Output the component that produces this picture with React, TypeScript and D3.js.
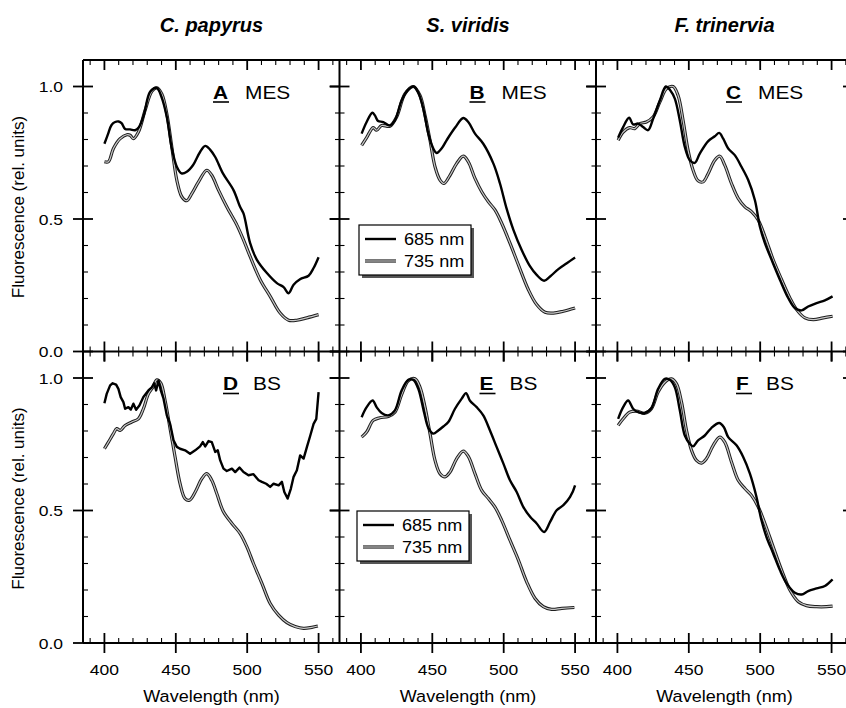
import React from 'react';
import * as d3 from 'd3';

const species = ['C. papyrus', 'S. viridis', 'F. trinervia'];
const tissues = ['MES', 'BS'];
const panelLetters = ['A', 'B', 'C', 'D', 'E', 'F'];
const legendLabels = ['685 nm', '735 nm'];
const xMajor = [400, 450, 500, 550];
const xMinor = [390, 410, 420, 430, 440, 460, 470, 480, 490, 510, 520, 530, 540, 560];
const yMajor = [0, 0.5, 1.0];
const yMinor = [0.1, 0.2, 0.3, 0.4, 0.6, 0.7, 0.8, 0.9];

// [wavelength nm, relative fluorescence]
const A685 = [[400,0.784],[402.5,0.82],[405,0.855],[407.5,0.866],[410,0.868],[412,0.862],[414.5,0.84],[418,0.838],[421.5,0.835],[424,0.845],[427.5,0.89],[432,0.98],[436.7,0.995],[440,0.96],[443.7,0.885],[447,0.772],[450.7,0.697],[454,0.672],[457.7,0.678],[462,0.703],[467,0.753],[470.6,0.776],[474,0.762],[477.6,0.734],[483,0.672],[490.4,0.609],[495,0.546],[497.4,0.521],[502,0.41],[506.8,0.346],[513.8,0.296],[520.8,0.258],[525.5,0.243],[529,0.22],[532.5,0.252],[537,0.273],[543,0.286],[546.5,0.315],[550,0.356]];
const A735 = [[400,0.716],[402.8,0.716],[406.3,0.766],[411,0.803],[415.7,0.818],[418,0.816],[420.3,0.803],[423.8,0.828],[428.5,0.91],[433.2,0.982],[436.7,0.995],[440.2,0.972],[443.7,0.897],[447.2,0.772],[450.7,0.647],[454.2,0.584],[457.7,0.569],[461.2,0.596],[465.9,0.64],[471.7,0.684],[475.2,0.665],[479.9,0.609],[485.7,0.546],[492.8,0.477],[497.4,0.421],[502.1,0.358],[509.1,0.271],[516.1,0.208],[523.1,0.145],[529,0.118],[534.8,0.118],[541.8,0.127],[550,0.139]];
const B685 = [[400.5,0.822],[404,0.866],[408,0.901],[409.8,0.891],[412,0.87],[415.7,0.866],[420.3,0.853],[423.8,0.872],[428.5,0.947],[433,0.987],[437,1.0],[440,0.979],[443.7,0.916],[447.2,0.822],[450.7,0.766],[453,0.749],[456.5,0.766],[460,0.797],[466,0.845],[471.7,0.881],[475.2,0.866],[479.9,0.822],[485.7,0.784],[492.8,0.709],[497.4,0.634],[502,0.54],[506.8,0.459],[512.6,0.383],[518.5,0.321],[523.1,0.289],[528.3,0.267],[532.5,0.283],[538.3,0.311],[544.2,0.333],[550,0.355]];
const B735 = [[400.5,0.778],[404,0.807],[408.6,0.845],[411,0.835],[414.5,0.853],[420.3,0.85],[425,0.885],[430.8,0.972],[436.7,1.0],[441.4,0.966],[444.9,0.891],[448.4,0.797],[451.9,0.697],[455.4,0.647],[458.2,0.634],[462.4,0.665],[467,0.709],[471.7,0.737],[475.2,0.716],[479.9,0.653],[484.6,0.603],[489.3,0.565],[493.9,0.534],[498.6,0.484],[504.4,0.409],[510.3,0.327],[517.3,0.233],[523.1,0.177],[529,0.148],[534.8,0.145],[541.8,0.152],[550,0.164]];
const C685 = [[400.5,0.807],[404,0.847],[408.2,0.882],[411,0.857],[414.5,0.86],[418,0.847],[421.5,0.835],[425,0.878],[429.7,0.947],[433.9,1.0],[437.1,0.985],[440.2,0.954],[443.7,0.872],[447.2,0.772],[450.7,0.722],[454.2,0.712],[457.7,0.747],[463.6,0.794],[468.2,0.812],[471.3,0.825],[474.1,0.803],[477.6,0.766],[482.2,0.741],[486.9,0.697],[491.6,0.647],[496.3,0.571],[499.8,0.471],[503.3,0.409],[508,0.346],[513.8,0.271],[519.6,0.202],[524.3,0.164],[529,0.155],[533.6,0.17],[539.5,0.183],[545.3,0.193],[550.7,0.208]];
const C735 = [[400.5,0.797],[404,0.828],[408.6,0.845],[412.1,0.841],[415.7,0.86],[420.3,0.866],[425,0.885],[429.7,0.941],[434.3,0.991],[439,1.0],[442.5,0.966],[446,0.872],[449.5,0.759],[453,0.684],[456.5,0.644],[460,0.64],[463.6,0.672],[468.2,0.722],[471.7,0.737],[475.2,0.703],[479.9,0.634],[484.6,0.578],[489.3,0.546],[493.9,0.528],[498.6,0.496],[503.3,0.434],[509.1,0.346],[515,0.271],[520.8,0.202],[525.5,0.158],[531.3,0.127],[537.2,0.12],[544.2,0.127],[550.7,0.133]];
const D685 = [[400,0.905],[401.6,0.94],[404,0.972],[405.8,0.98],[408.2,0.975],[409.8,0.959],[411.4,0.928],[413.3,0.909],[414.5,0.884],[416.8,0.89],[418.5,0.881],[420.3,0.903],[422.2,0.88],[424.5,0.896],[427.3,0.928],[430.8,0.953],[433.2,0.965],[434.8,0.98],[436.2,0.953],[437.9,0.991],[439.5,0.953],[441.4,0.922],[443.7,0.859],[446,0.827],[448.4,0.765],[450.7,0.74],[453,0.733],[456.5,0.727],[460,0.714],[463.6,0.727],[467,0.742],[468.9,0.758],[470.6,0.742],[472.9,0.762],[475.2,0.758],[477.6,0.721],[479.4,0.727],[481.1,0.689],[483.4,0.658],[485.7,0.649],[489.3,0.658],[491.6,0.645],[494.6,0.662],[497.4,0.645],[500.9,0.633],[504.4,0.637],[508,0.614],[510.3,0.608],[513.3,0.601],[516.1,0.589],[518.5,0.601],[522,0.595],[524.3,0.608],[526,0.57],[528.3,0.545],[530.6,0.583],[532.5,0.627],[534.8,0.652],[537.1,0.708],[539.5,0.696],[541.8,0.739],[544.2,0.783],[546.5,0.827],[548.4,0.846],[550,0.947]];
const D735 = [[400,0.733],[402.8,0.758],[406.3,0.79],[408.6,0.809],[411,0.802],[414.5,0.821],[419.2,0.834],[423.8,0.846],[427.3,0.884],[430.8,0.94],[433.9,0.965],[436.7,0.993],[439.5,0.981],[442.5,0.915],[446,0.809],[449.5,0.702],[453,0.601],[456.5,0.545],[459.6,0.539],[463.6,0.57],[468.2,0.62],[471.7,0.639],[475.2,0.614],[478.7,0.564],[483.4,0.495],[489.3,0.451],[495.1,0.413],[499.8,0.363],[504.4,0.3],[510.3,0.225],[516.1,0.149],[522,0.105],[527.8,0.077],[533.6,0.062],[539.5,0.055],[545.3,0.059],[549.5,0.064]];
const E685 = [[400.5,0.852],[404,0.89],[408.2,0.915],[411,0.89],[414.5,0.868],[419.2,0.859],[423.8,0.878],[428.5,0.953],[433.2,0.993],[436.7,0.993],[440.2,0.959],[444.2,0.871],[447.2,0.812],[450.7,0.79],[454.2,0.802],[457.7,0.817],[461.2,0.834],[465.9,0.884],[470.6,0.922],[473.6,0.943],[476.4,0.914],[481.1,0.89],[485.7,0.859],[490.4,0.802],[495.1,0.739],[499.8,0.677],[504.4,0.614],[509.1,0.57],[513.8,0.513],[518.5,0.476],[523.1,0.451],[528.3,0.419],[532.5,0.457],[537.1,0.501],[541.8,0.52],[546.5,0.551],[550,0.595]];
const E735 = [[400.5,0.777],[404,0.796],[408.6,0.84],[413.3,0.85],[419.2,0.855],[423.8,0.871],[428.5,0.937],[433.2,0.99],[437.9,0.997],[441.4,0.965],[444.9,0.89],[448.4,0.79],[451.9,0.689],[455.4,0.639],[458.9,0.627],[462.4,0.645],[467.1,0.696],[471.7,0.724],[475.2,0.704],[479.9,0.639],[484.6,0.576],[489.3,0.545],[493.9,0.513],[498.6,0.463],[504.4,0.388],[510.3,0.313],[516.1,0.231],[522,0.168],[527.8,0.137],[533.6,0.127],[540.7,0.131],[549.5,0.134]];
const F685 = [[400.5,0.846],[404,0.89],[407.5,0.915],[411,0.884],[414.5,0.871],[419.2,0.868],[423.8,0.886],[428.5,0.959],[433.2,0.997],[436.7,0.993],[440.2,0.965],[443.7,0.878],[447.2,0.783],[450.7,0.752],[453,0.742],[456.5,0.765],[461.2,0.783],[465.9,0.812],[471.3,0.83],[474.5,0.815],[477.6,0.777],[483.4,0.746],[488.1,0.702],[492.8,0.639],[497.4,0.551],[500.9,0.463],[504.4,0.4],[509.1,0.338],[513.8,0.275],[518.5,0.225],[524.3,0.19],[529,0.183],[533.6,0.196],[539.5,0.206],[545.3,0.215],[550.7,0.24]];
const F735 = [[400.5,0.821],[404,0.846],[408.6,0.871],[413.3,0.875],[419.2,0.867],[423.8,0.884],[428.5,0.947],[433.2,0.984],[437.9,0.997],[441.4,0.978],[444.9,0.909],[448.4,0.802],[451.9,0.727],[455.4,0.689],[458.9,0.679],[462.4,0.696],[467.1,0.746],[471.7,0.777],[475.2,0.758],[479.9,0.683],[484.6,0.614],[489.3,0.583],[493.9,0.557],[498.6,0.514],[503.3,0.451],[509.1,0.363],[515,0.275],[520.8,0.2],[526.7,0.156],[532.5,0.141],[539.5,0.137],[546.5,0.137],[550.7,0.139]];

const series685 = [A685, B685, C685, D685, E685, F685];
const series735 = [A735, B735, C735, D735, E735, F735];

const FONT = '"Liberation Sans", Arial, Helvetica, sans-serif';
const COL_LEFT = [83, 339.5, 596];
const PW = 257;
const ROW_TOP = [60, 351.5];
const PH = 291.5;
const SX = 1.13;

function T({ x, y, anchor = 'start', size, sx = SX, weight = 'normal', italic = false, children }) {
  return (
    <text
      transform={`translate(${x},${y}) scale(${sx},1)`}
      textAnchor={anchor}
      fontSize={size}
      fontFamily={FONT}
      fontWeight={weight}
      fontStyle={italic ? 'italic' : 'normal'}
      fill="#000"
    >
      {children}
    </text>
  );
}

function Line735({ d }) {
  return (
    <g>
      <path d={d} fill="none" stroke="#1e1e1e" strokeWidth={3.2} strokeLinejoin="round" />
      <path d={d} fill="none" stroke="#c9c9c9" strokeWidth={1.2} strokeLinejoin="round" />
    </g>
  );
}

function Legend({ x, y }) {
  const w = 112, h = 50;
  return (
    <g>
      <rect x={x + 3} y={y + 3} width={w} height={h} fill="#555" />
      <rect x={x} y={y} width={w} height={h} fill="#fff" stroke="#000" strokeWidth={1.2} />
      <line x1={x + 6} x2={x + 37} y1={y + 14} y2={y + 14} stroke="#000" strokeWidth={2.4} />
      <path d={`M${x + 6},${y + 36}H${x + 37}`} stroke="#1e1e1e" strokeWidth={3.2} />
      <path d={`M${x + 6},${y + 36}H${x + 37}`} stroke="#c9c9c9" strokeWidth={1.2} />
      <T x={x + 45} y={y + 20} size={16}>{legendLabels[0]}</T>
      <T x={x + 45} y={y + 42} size={16}>{legendLabels[1]}</T>
    </g>
  );
}

export default function App() {
  const W = 846, H = 708;
  const fmt = d3.format('.1f');
  const panels = [];
  for (let r = 0; r < 2; r++) {
    for (let c = 0; c < 3; c++) {
      const i = r * 3 + c;
      const left = COL_LEFT[c];
      const top = ROW_TOP[r];
      const x = d3.scaleLinear().domain([385, 565]).range([left, left + PW]);
      const y = d3.scaleLinear().domain([0, 1.1]).range([top + PH, top]);
      const lineSmooth = d3.line().x(d => x(d[0])).y(d => y(d[1])).curve(d3.curveCatmullRom.alpha(0.5));
      const lineRough = d3.line().x(d => x(d[0])).y(d => y(d[1]));
      const l685 = (i === 3 ? lineRough : lineSmooth)(series685[i]);
      const l735 = lineSmooth(series735[i]);
      const right = left + PW, bottom = top + PH;
      panels.push(
        <g key={i}>
          {yMajor.map(v => (
            <g key={'ym' + v}>
              <line x1={left - 10} x2={left + 10} y1={y(v)} y2={y(v)} stroke="#000" strokeWidth={1.8} />
              <line x1={right - 10} x2={right} y1={y(v)} y2={y(v)} stroke="#000" strokeWidth={1.8} />
            </g>
          ))}
          {yMinor.map(v => (
            <g key={'yn' + v}>
              <line x1={left} x2={left + 5} y1={y(v)} y2={y(v)} stroke="#000" strokeWidth={1.1} />
              <line x1={right - 5} x2={right} y1={y(v)} y2={y(v)} stroke="#000" strokeWidth={1.1} />
            </g>
          ))}
          {xMajor.map(v => (
            <g key={'xm' + v}>
              <line x1={x(v)} x2={x(v)} y1={top} y2={top + 10} stroke="#000" strokeWidth={1.8} />
              <line x1={x(v)} x2={x(v)} y1={bottom - 10} y2={bottom + 10} stroke="#000" strokeWidth={1.8} />
            </g>
          ))}
          {xMinor.map(v => (
            <g key={'xn' + v}>
              <line x1={x(v)} x2={x(v)} y1={top} y2={top + 5} stroke="#000" strokeWidth={1.1} />
              <line x1={x(v)} x2={x(v)} y1={bottom - 5} y2={bottom} stroke="#000" strokeWidth={1.1} />
            </g>
          ))}
          <Line735 d={l735} />
          <path d={l685} fill="none" stroke="#000" strokeWidth={2.4} strokeLinejoin="round" />
          <T x={left + (r === 0 ? 130 : 140)} y={top + 38.5} size={18.5} weight="bold">{panelLetters[i]}</T>
          <line x1={left + (r === 0 ? 130 : 140)} x2={left + (r === 0 ? 146 : 156)} y1={top + 42} y2={top + 42} stroke="#000" strokeWidth={1.6} />
          <T x={left + (r === 0 ? 162 : 170)} y={top + 38.5} size={18.5}>{tissues[r]}</T>
          {c === 0 && yMajor.map(v => (
            <T key={'yl' + v} x={63} y={y(v) + 5.5} anchor="end" size={15.5}>{fmt(v)}</T>
          ))}
          {r === 1 && xMajor.map(v => (
            <T key={'xl' + v} x={x(v)} y={675} anchor="middle" size={15.5}>{String(v)}</T>
          ))}
        </g>
      );
    }
  }

  return (
    <svg width={W} height={H} style={{ position: 'absolute', left: 0, top: 0, background: '#fff' }}>
      <rect x={0} y={0} width={W} height={H} fill="#fff" />
      {panels}
      <g stroke="#000" strokeWidth={2}>
        <line x1={COL_LEFT[0]} x2={COL_LEFT[2] + PW} y1={ROW_TOP[0]} y2={ROW_TOP[0]} />
        <line x1={COL_LEFT[0]} x2={COL_LEFT[2] + PW} y1={ROW_TOP[1]} y2={ROW_TOP[1]} />
        <line x1={COL_LEFT[0]} x2={COL_LEFT[2] + PW} y1={ROW_TOP[1] + PH} y2={ROW_TOP[1] + PH} />
        {[...COL_LEFT, COL_LEFT[2] + PW].map((xv, k) => (
          <line key={k} x1={xv} x2={xv} y1={ROW_TOP[0]} y2={ROW_TOP[1] + PH} />
        ))}
      </g>
      <Legend x={359} y={225} />
      <Legend x={357} y={511} />
      {species.map((s, c) => (
        <T key={s} x={COL_LEFT[c] + PW / 2} y={32} anchor="middle" size={20} sx={1} weight="bold" italic>{s}</T>
      ))}
      {species.map((s, c) => (
        <T key={'xt' + c} x={COL_LEFT[c] + PW / 2} y={702} anchor="middle" size={17} sx={1.06}>Wavelength (nm)</T>
      ))}
      {[0, 1].map(r => (
        <text key={'yt' + r} transform={`translate(24,${ROW_TOP[r] + 147}) rotate(-90)`} textAnchor="middle" fontSize={17} fontFamily={FONT}>
          Fluorescence (rel. units)
        </text>
      ))}
    </svg>
  );
}
